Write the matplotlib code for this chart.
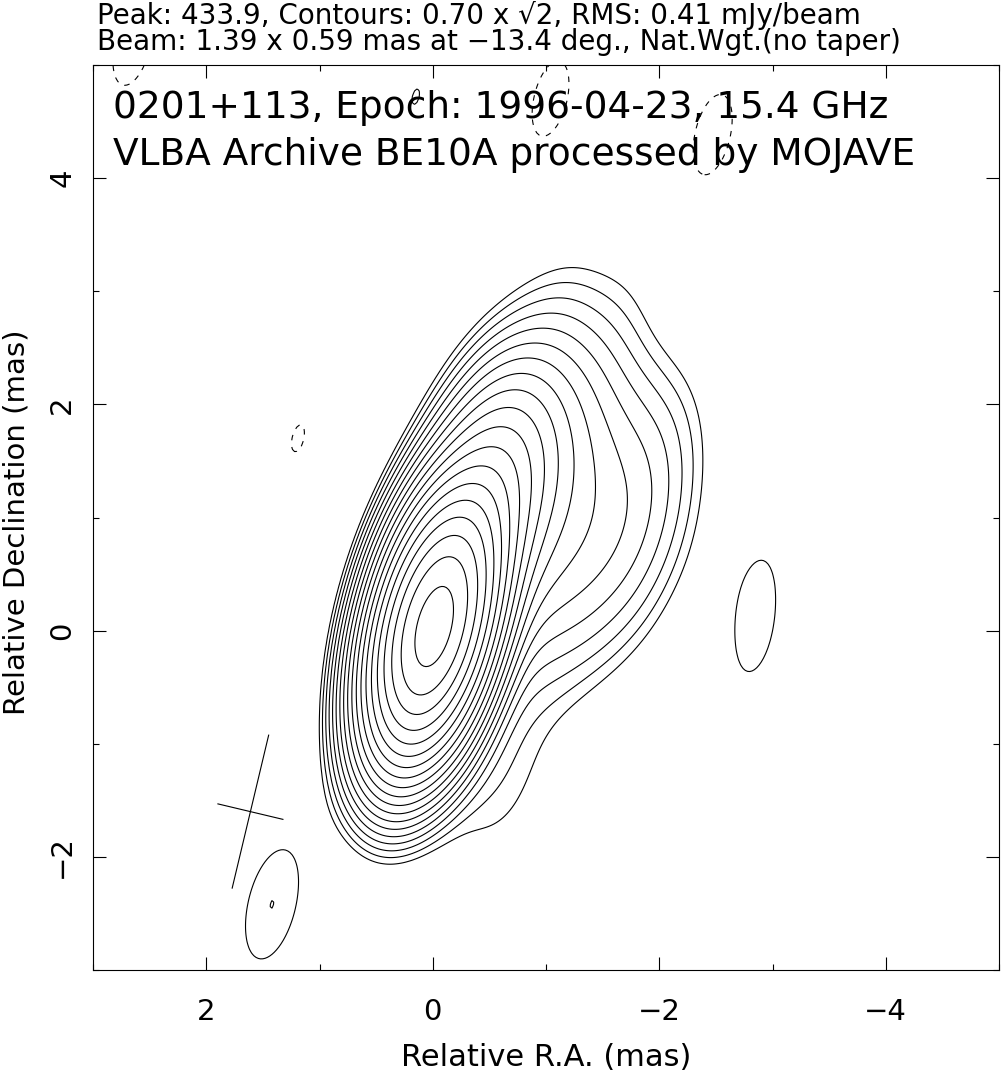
import numpy as np
import matplotlib
matplotlib.use("Agg")
import matplotlib.pyplot as plt
from matplotlib.ticker import MultipleLocator

# map header values
peak_flux = 433.9          # mJy/beam
base_level = 0.70          # lowest contour, mJy/beam
rms = 0.41
beam_major = 1.39          # mas (FWHM)
beam_minor = 0.59
beam_pa = -13.4            # deg, east of north
beam_center = (1.61, -1.60)

source = "0201+113"
epoch = "1996-04-23"
freq = "15.4 GHz"
project = "BE10A"

# gaussian model components
# RA offset (mas), Dec offset (mas), flux (mJy), FWHM size (mas)
comp_ra = [0.00, -0.12, -0.50, -1.00, -1.85, -1.70, -1.00, -1.10, -1.70,
           -0.55, -2.85, -2.85, 1.42, 0.15]
comp_dec = [0.00, 0.35, 1.20, 1.60, 1.55, 0.85, 0.60, 2.60, 2.80,
            -1.30, -0.25, 0.50, -2.42, 4.72]
comp_flux = [395.0, 40.0, 32.0, 9.0, 1.8, 2.5, 8.0, 0.9, 0.3,
             1.3, 0.55, 0.55, 0.992, 0.705]
comp_size = [0.05, 0.15, 0.35, 0.70, 0.60, 0.60, 0.90, 0.50, 0.0,
             0.60, 0.0, 0.0, 0.0, 0.0]

# negative sidelobes (dashed contours)
neg_ra = [2.65, -1.04, -2.47, 1.19]
neg_dec = [5.18, 4.70, 4.38, 1.70]
neg_flux = [-0.85, -0.83, -0.85, -0.715]
neg_size = [0.0, 0.0, 0.0, 0.0]

# restoring beam covariance
fw = 2.0 * np.sqrt(2.0 * np.log(2.0))
pa = np.radians(beam_pa)
u = np.array([np.sin(pa), np.cos(pa)])
v = np.array([np.cos(pa), -np.sin(pa)])
beam_cov = (beam_major / fw) ** 2 * np.outer(u, u) + (beam_minor / fw) ** 2 * np.outer(v, v)
beam_det = np.linalg.det(beam_cov)

ra = np.linspace(3.0, -5.0, 401)
dec = np.linspace(-3.0, 5.0, 401)
RA, DEC = np.meshgrid(ra, dec)
img = np.zeros_like(RA)
for x0, y0, s, size in zip(comp_ra + neg_ra, comp_dec + neg_dec,
                           comp_flux + neg_flux, comp_size + neg_size):
    c = beam_cov + (size / fw) ** 2 * np.eye(2)
    ci = np.linalg.inv(c)
    dx = RA - x0
    dy = DEC - y0
    q = ci[0, 0] * dx * dx + 2 * ci[0, 1] * dx * dy + ci[1, 1] * dy * dy
    img += s * np.sqrt(beam_det / np.linalg.det(c)) * np.exp(-0.5 * q)

n_lev = int(np.floor(2 * np.log2(peak_flux / base_level))) + 1
pos_levels = base_level * np.sqrt(2) ** np.arange(n_lev)

fig = plt.figure(figsize=(10.01, 10.79), dpi=100)
ax = fig.add_axes([93 / 1001, 1 - 970 / 1079, 906 / 1001, 905 / 1079])

ax.contour(RA, DEC, img, levels=pos_levels, colors="k", linewidths=0.8)
ax.contour(RA, DEC, img, levels=[-base_level], colors="k", linewidths=0.8,
           linestyles=[(0, (5, 6))])

# beam cross
bx, by = beam_center
for length, direction in [(beam_major, u), (beam_minor, v)]:
    ax.plot([bx - direction[0] * length / 2, bx + direction[0] * length / 2],
            [by - direction[1] * length / 2, by + direction[1] * length / 2],
            color="k", lw=0.8)

ax.set_xlim(3, -5)
ax.set_ylim(-3, 5)
ax.xaxis.set_major_locator(MultipleLocator(2))
ax.xaxis.set_minor_locator(MultipleLocator(1))
ax.yaxis.set_major_locator(MultipleLocator(2))
ax.yaxis.set_minor_locator(MultipleLocator(1))
ax.tick_params(which="both", direction="in", top=True, right=True, width=0.8)
ax.tick_params(which="major", length=9.5)
ax.tick_params(which="minor", length=4)
ax.tick_params(axis="x", labelsize=21, pad=20)
ax.tick_params(axis="y", labelsize=21, pad=12, labelrotation=90)
for lab in ax.get_yticklabels():
    lab.set_va("center")
for sp in ax.spines.values():
    sp.set_linewidth(0.8)

fig.text(97 / 1001, 1 - 16 / 1079,
         f"Peak: {peak_flux:.1f}, Contours: {base_level:.2f} x \u221a2, RMS: {rms:.2f} mJy/beam",
         fontsize=20, ha="left", va="center")
fig.text(97 / 1001, 1 - 42 / 1079,
         f"Beam: {beam_major:.2f} x {beam_minor:.2f} mas at \u2212{abs(beam_pa):.1f} deg., Nat.Wgt.(no taper)",
         fontsize=20, ha="left", va="center")
fig.text(113 / 1001, 1 - 108 / 1079, f"{source}, Epoch: {epoch}, {freq}",
         fontsize=27, ha="left", va="center")
fig.text(113 / 1001, 1 - 155 / 1079, f"VLBA Archive {project} processed by MOJAVE",
         fontsize=27, ha="left", va="center")
fig.text(546 / 1001, 1 - 1058 / 1079, "Relative R.A. (mas)", fontsize=22,
         ha="center", va="center")
fig.text(17 / 1001, 1 - 522 / 1079, "Relative Declination (mas)", fontsize=21,
         ha="center", va="center", rotation=90)

fig.savefig("out.png", dpi=100)
